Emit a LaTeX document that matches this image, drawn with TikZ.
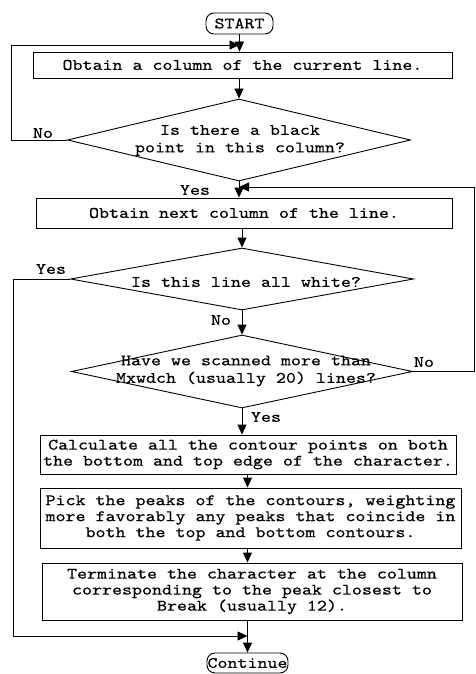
\documentclass[tikz,border=0pt]{standalone}
\usepackage{fontspec}
\setmainfont{lmmono10-regular.otf}[FakeStretch=1.19,FakeBold=0.4]
\usetikzlibrary{shapes.geometric,arrows.meta,calc}
\begin{document}
\begin{tikzpicture}[x=1pt,y=-1pt,
  every node/.style={font=\fontsize{16}{16}\selectfont},
  box/.style={draw,line width=0.9pt,inner sep=0pt,align=center},
  dia/.style={draw,diamond,line width=0.9pt,inner sep=0pt},
  term/.style={draw,rounded corners=8pt,line width=0.9pt,inner sep=0pt},
  arr/.style={line width=0.9pt,-{Triangle[width=9pt,length=10pt]}},
  lab/.style={inner sep=0pt},
  dtxt/.style={inner sep=0pt,align=center,font=\fontsize{16}{17.5}\selectfont}]
\fill[white] (0,0) rectangle (476,674);
\useasboundingbox (0,0) rectangle (476,674);
\node[term,minimum width=67pt,minimum height=21pt] (start) at (239.5,23.5) {START};
\node[box,minimum width=419pt,minimum height=26pt] (b1) at (242.5,65) {Obtain a column of the current line.};
\node[dia,minimum width=343pt,minimum height=82pt] (d1) at (239,140) {};
\node[dtxt] (t1) at (240,140.5) {Is there a black\\point in this column?};
\node[box,minimum width=416pt,minimum height=30pt] (b2) at (244,213) {Obtain next column of the line.};
\node[dia,minimum width=343pt,minimum height=62pt] (d2) at (242,279) {};
\node[dtxt] (t2) at (246,282) {Is this line all white?};
\node[dia,minimum width=341pt,minimum height=73pt] (d3) at (242,371.5) {};
\node[dtxt] (t3) at (246,371) {Have we scanned more than\\Mxwdch (usually 20) lines?};
\node[box,minimum width=416pt,minimum height=39pt] (b3) at (248,454.5) {Calculate all the contour points on both\\the bottom and top edge of the character.};
\node[box,minimum width=421pt,minimum height=60pt] (b4) at (250.5,518) {Pick the peaks of the contours, weighting\\more favorably any peaks that coincide in\\both the top and bottom contours.};
\node[box,minimum width=420pt,minimum height=57pt] (b5) at (252,591.5) {Terminate the character at the column\\corresponding to the peak closest to\\Break (usually 12).};
\node[term,minimum width=81pt,minimum height=20pt] (cont) at (247.5,663) {Continue};
% labels
\node[lab] (no1) at (43,133) {No};
\node[lab] (yes1) at (195,190) {Yes};
\node[lab] (yes2) at (51,269) {Yes};
\node[lab] (no2) at (221,320) {No};
\node[lab] (no3) at (424,362) {No};
\node[lab] (yes3) at (266,417) {Yes};
% loop corners
\coordinate (c1) at (11,45);
\coordinate (c2) at (474,187);
\coordinate (c3) at (13,636);
% connectors
\draw[arr] (start.south) -- (start.south |- b1.north);
\draw[arr] (d1.west) -| (c1) -- (c1 -| start.south);
\draw[arr] (d1.north |- b1.south) -- (d1.north);
\draw[arr] (d1.south) -- (d1.south |- b2.north);
\draw[arr] (d3.east) -| (c2) -- (c2 -| d1.south);
\draw[arr] (d2.north |- b2.south) -- (d2.north);
\draw[arr] (d2.south) -- (d3.north);
\draw[arr] (d2.west) -| (c3) -- (c3 -| cont.north);
\draw[arr] (d3.south) -- (d3.south |- b3.north);
\draw[arr] (b3.south -| cont.north) -- (b4.north -| cont.north);
\draw[arr] (b4.south -| cont.north) -- (b5.north -| cont.north);
\draw[arr] (b5.south -| cont.north) -- (cont.north);
\end{tikzpicture}
\end{document}
